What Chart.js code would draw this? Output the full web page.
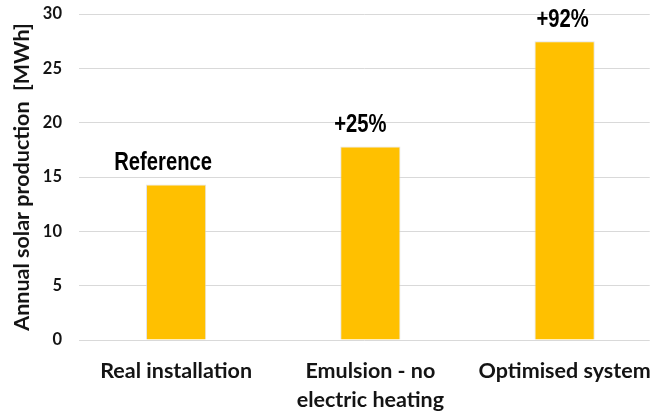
<!DOCTYPE html>
<html>
<head>
<meta charset="utf-8">
<script src="https://cdn.jsdelivr.net/npm/chart.js@4.4.0/dist/chart.umd.min.js"></script>
<style>
  html, body { margin: 0; padding: 0; background: #ffffff; }
  #wrap { width: 658px; height: 412px; position: relative; }
</style>
</head>
<body>
<div id="wrap"><canvas id="c" width="658" height="412"></canvas></div>
<script>
// Annual solar production per system configuration
const categories = ['Real installation', ['Emulsion - no', 'electric heating'], 'Optimised system'];
const production = [14.3, 17.8, 27.5];          // MWh
const barNotes = ['Reference', '+25%', '+92%'];
const yTicks = [0, 5, 10, 15, 20, 25, 30];

const textColor = '#141414';
const labelFont = 'Lato, "Open Sans", "DejaVu Sans", sans-serif';

// Draws the note text above each bar (condensed bold face)
const barNotesPlugin = {
  id: 'barNotes',
  afterDatasetsDraw(chart, args, opts) {
    const ctx = chart.ctx;
    const meta = chart.getDatasetMeta(0);
    meta.data.forEach((bar, i) => {
      const dx = opts.dx[i] || 0;
      ctx.save();
      ctx.translate(bar.x + dx, bar.y - opts.gap);
      ctx.scale(opts.condense, 1);
      ctx.fillStyle = opts.color;
      ctx.font = opts.font;
      ctx.textAlign = 'center';
      ctx.textBaseline = 'middle';
      ctx.fillText(barNotes[i], 0, 0);
      ctx.restore();
    });
  }
};

// Lets the category band run a little past the right edge of the gridlines
const widenCategories = {
  id: 'widenCategories',
  afterLayout(chart, args, opts) {
    const x = chart.scales.x;
    x.right += opts.extra;
    x.width += opts.extra;
    x.configure();
  }
};

new Chart(document.getElementById('c'), {
  type: 'bar',
  data: {
    labels: categories,
    datasets: [{
      data: production,
      backgroundColor: '#FFC000',
      borderColor: 'rgba(215,215,215,0.7)',
      borderWidth: 1,
      barPercentage: 0.31,
      categoryPercentage: 1.0
    }]
  },
  options: {
    responsive: false,
    animation: false,
    devicePixelRatio: 1,
    layout: { padding: { left: 0, right: 2, top: 14, bottom: 0 }, autoPadding: false },
    plugins: {
      legend: { display: false },
      tooltip: { enabled: false },
      widenCategories: { extra: 12 },
      barNotes: {
        font: 'bold 25px "Liberation Sans", Arial, sans-serif',
        condense: 0.81,
        color: '#000000',
        gap: 21,
        dx: [-13, -10, -2]
      }
    },
    scales: {
      x: {
        grid: { display: false, drawTicks: false },
        border: { display: false },
        afterFit(axis) { axis.height = 72; axis.paddingTop = 0; axis.paddingBottom = 0; },
        ticks: {
          color: textColor,
          font: { family: labelFont, size: 21.5, weight: 'bold', lineHeight: 1.35 },
          padding: 17,
          maxRotation: 0,
          autoSkip: false
        }
      },
      y: {
        min: 0,
        max: 30,
        afterBuildTicks(axis) { axis.ticks = yTicks.map(v => ({ value: v })); },
        afterFit(axis) { axis.width = 79; axis.paddingTop = 0; axis.paddingBottom = 0; },
        grid: { color: '#d9d9d9', lineWidth: 1, drawTicks: false },
        border: { display: false },
        ticks: {
          color: textColor,
          font: { family: labelFont, size: 16.5, weight: 'bold' },
          padding: 17
        },
        title: {
          display: true,
          text: 'Annual solar production  [MWh]',
          color: textColor,
          font: { family: labelFont, size: 21.5, weight: 'bold' },
          padding: { top: 9, bottom: 0 }
        }
      }
    }
  },
  plugins: [widenCategories, barNotesPlugin]
});
</script>
</body>
</html>
